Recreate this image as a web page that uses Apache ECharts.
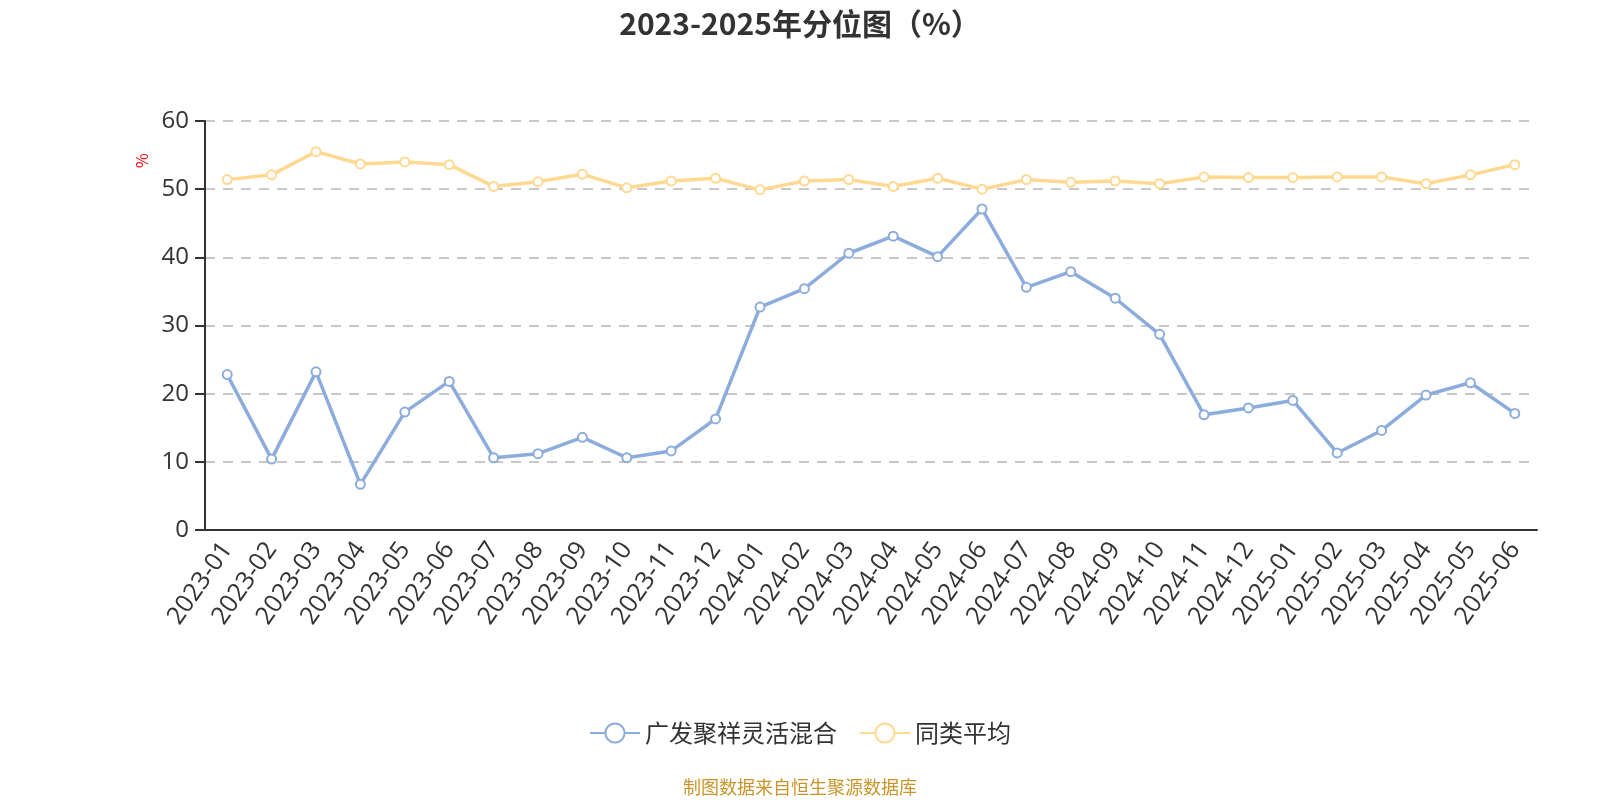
<!DOCTYPE html>
<html>
<head>
<meta charset="utf-8">
<script src="https://cdn.jsdelivr.net/npm/echarts@6/dist/echarts.min.js"></script>
<style>html,body{margin:0;padding:0;background:#fff}#c{width:1600px;height:800px}</style>
</head>
<body>
<div id="c"></div>
<script>
var categories = ['2023-01','2023-02','2023-03','2023-04','2023-05','2023-06','2023-07','2023-08','2023-09','2023-10','2023-11','2023-12','2024-01','2024-02','2024-03','2024-04','2024-05','2024-06','2024-07','2024-08','2024-09','2024-10','2024-11','2024-12','2025-01','2025-02','2025-03','2025-04','2025-05','2025-06'];
var fundValues = [22.8,10.4,23.2,6.7,17.3,21.8,10.6,11.2,13.6,10.6,11.6,16.3,32.7,35.4,40.6,43.1,40.1,47.1,35.6,37.9,34.0,28.7,16.9,17.9,19.0,11.3,14.6,19.8,21.6,17.1];
var avgValues = [51.4,52.1,55.5,53.7,54.0,53.6,50.4,51.1,52.2,50.2,51.2,51.6,49.9,51.2,51.4,50.4,51.6,50.0,51.4,51.0,51.2,50.8,51.8,51.7,51.7,51.8,51.8,50.8,52.1,53.6];
var seriesNames = ['广发聚祥灵活混合','同类平均'];
var yTicks = {min:0,max:60,interval:10};

var font = '"Noto Sans CJK SC","Noto Sans",sans-serif';
var labelFont = '"Open Sans","Noto Sans CJK SC",sans-serif';
var chart = echarts.init(document.getElementById('c'));
chart.setOption({
  animation:false,
  backgroundColor:'#fff',
  title:{text:'2023-2025年分位图（%）',left:'center',top:4,textStyle:{fontFamily:font,fontSize:30,fontWeight:'bold',color:'#333'}},
  graphic:[
    {type:'text',left:'center',top:778,style:{text:'制图数据来自恒生聚源数据库',fill:'#c9952a',font:'18px '+font}},
    {type:'text',x:134,y:168,rotation:Math.PI/2,style:{text:'%',fill:'#ff0000',font:'16px '+font}}
  ],
  legend:{bottom:50,left:'center',itemWidth:50,itemHeight:24,itemGap:22,textStyle:{fontFamily:font,fontSize:24,color:'#333'},data:seriesNames},
  grid:{left:205,right:63,top:121,bottom:270},
  xAxis:{type:'category',data:categories,boundaryGap:true,
    axisLine:{lineStyle:{color:'#333',width:2}},
    axisTick:{length:9,lineStyle:{color:'#333',width:2}},
    axisLabel:{rotate:55,fontFamily:labelFont,fontSize:25,color:'#333',margin:15,interval:0}},
  yAxis:{type:'value',min:yTicks.min,max:yTicks.max,interval:yTicks.interval,
    axisLine:{show:true,lineStyle:{color:'#333',width:2}},
    axisTick:{show:true,length:10,lineStyle:{color:'#333',width:2}},
    axisLabel:{fontFamily:labelFont,fontSize:24,color:'#333',margin:16},
    splitLine:{lineStyle:{color:'#c8c8c8',type:[10,8],width:2}}},
  series:[
    {name:seriesNames[0],type:'line',data:fundValues,symbol:'emptyCircle',symbolSize:9,
      lineStyle:{width:3.5,color:'#8cacdc'},itemStyle:{color:'#8cacdc',borderWidth:2}},
    {name:seriesNames[1],type:'line',data:avgValues,symbol:'emptyCircle',symbolSize:9,
      lineStyle:{width:3.5,color:'#ffd892'},itemStyle:{color:'#ffd892',borderWidth:2}}
  ]
});
</script>
</body>
</html>
